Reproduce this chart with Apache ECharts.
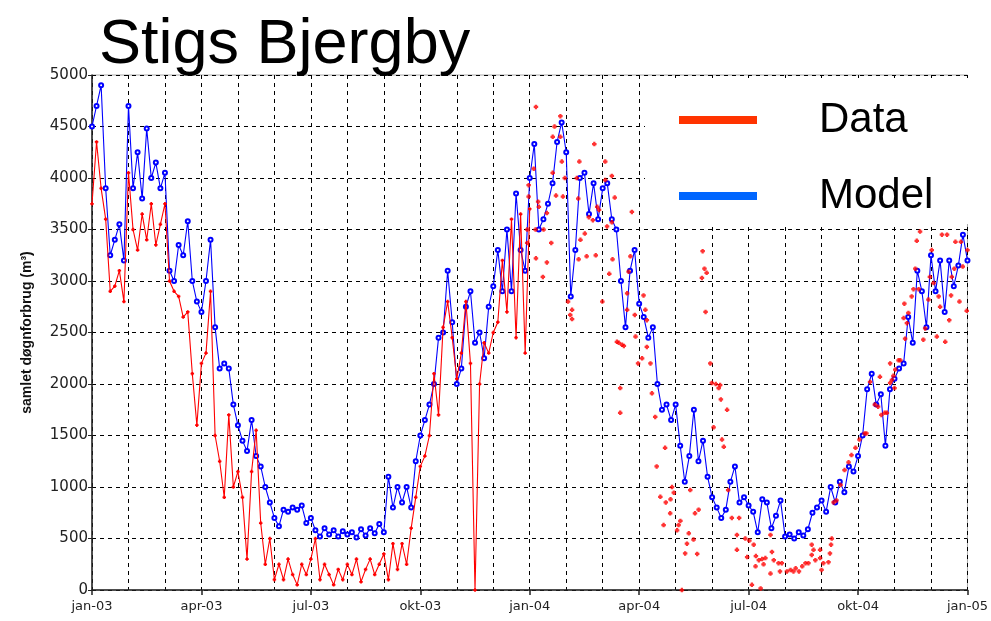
<!DOCTYPE html>
<html>
<head>
    <meta charset="utf-8">
    <title>Stigs Bjergby</title>
    <script src="https://cdn.jsdelivr.net/npm/echarts@6/dist/echarts.min.js"></script>
</head>
<style>
    html, body {
        margin: 0;
        padding: 0;
        width: 100%;
        height: 100%;
        overflow: hidden;
        background: #fff;
    }
    #chart {
        width: 991px;
        height: 621px;
    }
</style>
<body>
<div id="chart"></div>
<script type="text/javascript">
    // x axis runs in months from jan-03 (0) to jan-05 (24)
    var monthNames = ['jan', 'apr', 'jul', 'okt'];
    var step = 1 / 8; // months between two samples of the daily series

    // model, one value per step
    var modelValues = [
        4500, 4700, 4900, 3900, 3250, 3400, 3550, 3200,
        4700, 3900, 4250, 3800, 4480, 4000, 4150, 3900,
        4050, 3100, 3000, 3350, 3250, 3580, 3000, 2800,
        2700, 3000, 3400, 2550, 2150, 2200, 2150, 1800,
        1600, 1450, 1350, 1650, 1300, 1200, 1000, 850,
        700, 620, 780, 760, 800, 780, 820, 650,
        700, 580, 520, 600, 540, 580, 520, 570,
        540, 560, 510, 590, 530, 600, 550, 640,
        560, 1100, 800, 1000, 850, 1000, 800, 1250,
        1500, 1650, 1800, 2000, 2450, 2500, 3100, 2600,
        2000, 2150, 2750, 2900, 2400, 2500, 2250, 2750,
        2950, 3300, 2900, 3500, 2900, 3850, 3300, 3100,
        4000, 4330, 3500, 3600, 3750, 3950, 4350, 4540,
        4250, 2850, 3300, 4000, 4050, 3650, 3950, 3600,
        3900, 3950, 3600, 3500, 3000, 2550, 3100, 3300,
        2780, 2650, 2450, 2550, 2000, 1750, 1800, 1650,
        1800, 1400, 1050, 1300, 1750, 1250, 1450, 1100,
        900, 800, 700, 780, 1050, 1200, 850, 900,
        820, 760, 560, 880, 850, 600, 720, 870,
        520, 540, 500, 560, 530, 590, 750, 800,
        870, 760, 1000, 850, 1050, 950, 1200, 1150,
        1300, 1500, 1950, 2100, 1800, 1900, 1400, 1950,
        2050, 2150, 2200, 2650, 2400, 3100, 2900, 2550,
        3250, 2900, 3200, 2700, 3200, 2950, 3150, 3450,
        3200
    ];

    // measured data, jan-03 .. jan-04, joined by a line
    var dataValues = [
        3750, 4350, 3900, 3600, 2900, 2950, 3100, 2800,
        4050, 3500, 3300, 3650, 3400, 3750, 3350, 3550,
        3750, 3000, 2900, 2850, 2650, 2700, 2100, 1600,
        2200, 2300, 2900, 1500, 1250, 900, 1700, 1000,
        1150, 900, 300, 1150, 1550, 650, 250, 500,
        100, 250, 100, 300, 150, 50, 250, 150,
        300, 500, 100, 250, 150, 50, 200, 100,
        250, 150, 300, 80, 200, 300, 150, 250,
        350, 100, 450, 200, 450, 250, 600, 900,
        1200, 1300, 1500, 2100, 1700, 2550, 2800, 2450,
        2050, 2300, 2800, 2200, 0, 2000, 2400, 2300,
        2500, 2600, 3200, 2700, 3600, 2450, 3650, 2300,
        3700
    ];

    // measured data in 2004, loose points
    var dotMonths = [
        11.93, 11.93, 11.97, 11.97, 12.11, 12.16, 12.17, 12.17, 12.23, 12.25,
        12.36, 12.38, 12.47, 12.47, 12.59, 12.63, 12.63, 12.68, 12.72, 12.84,
        12.84, 12.88, 12.91, 12.96, 13.05, 13.11, 13.16, 13.16, 13.29, 13.33,
        13.36, 13.34, 13.39, 13.51, 13.56, 13.62, 13.73, 13.77, 13.81, 13.85,
        13.90, 13.99, 14.07, 14.07, 14.12, 14.18, 14.25, 14.25, 14.27, 14.33,
        14.39, 14.44, 14.48, 14.48, 14.53, 14.58, 14.67, 14.67, 14.71, 14.76,
        14.80, 14.88, 14.90, 14.97, 15.08, 15.12, 15.17, 15.21, 15.21, 15.31,
        15.35, 15.44, 15.48, 15.58, 15.67, 15.71, 15.73, 15.85, 15.86, 15.90,
        15.95, 16.04, 16.08, 16.13, 16.17, 16.26, 16.31, 16.36, 16.40, 16.49,
        16.53, 16.59, 16.63, 16.72, 16.74, 16.79, 16.85, 16.82, 16.95, 16.99,
        17.04, 17.10, 17.18, 17.22, 17.24, 17.27, 17.32, 17.41, 17.44, 17.54,
        17.68, 17.68, 17.74, 17.91, 17.96, 18.02, 18.09, 18.14, 18.19, 18.20,
        18.28, 18.33, 18.37, 18.46, 18.41, 18.60, 18.60, 18.64, 18.69, 18.82,
        18.86, 18.91, 19.05, 19.15, 19.23, 19.29, 19.38, 19.47, 19.56, 19.64,
        19.73, 19.78, 19.73, 19.83, 19.96, 20.00, 19.96, 20.05, 20.23, 20.19,
        20.26, 20.28, 20.33, 20.41, 20.52, 20.63, 20.74, 20.82, 20.93, 21.04,
        21.18, 21.23, 21.33, 21.46, 21.55, 21.60, 21.64, 21.73, 21.79, 21.88,
        21.88, 21.93, 21.97, 22.00, 22.02, 22.11, 22.16, 22.25, 22.27, 22.29,
        22.34, 22.38, 22.47, 22.52, 22.57, 22.61, 22.66, 22.70, 22.79, 22.84,
        22.93, 22.97, 23.02, 23.07, 23.16, 23.21, 23.25, 23.30, 23.44, 23.39,
        23.50, 23.55, 23.57, 23.64, 23.67, 23.78, 23.82, 23.87, 23.98, 24.00
    ];
    var dotValues = [
        3500, 3370, 3930, 3820, 4090, 3500, 4690, 3220, 3770, 3720,
        3040, 3500, 3180, 3660, 3370, 4050, 4400, 4500, 3830, 4600,
        4400, 4160, 3820, 4000, 2800, 2670, 2720, 2630, 4000, 3800,
        4160, 3210, 3400, 3460, 3240, 3620, 3590, 4330, 3250, 3720,
        3690, 2800, 4160, 3980, 3530, 3070, 4020, 3570, 3210, 3810,
        2410, 2400, 1960, 1720, 2380, 2370, 2880, 2720, 3090, 3240,
        3670, 2670, 2460, 2200, 2250, 2860, 2720, 2360, 2620, 2200,
        1910, 1680, 1200, 905, 630, 1380, 850, 745, 880, 1000,
        945, 580, 630, 670, 0, 355, 450, 550, 970, 490,
        745, 350, 780, 3030, 3290, 3120, 3080, 2700, 2200, 2010,
        1580, 2000, 1960, 1990, 1850, 1460, 1390, 1750, 970, 700,
        535, 390, 700, 500, 320, 480, 50, 440, 230, 330,
        290, 15, 300, 310, 250, 160, 535, 370, 290, 260,
        180, 260, 180, 195, 180, 210, 180, 230, 260, 260,
        340, 390, 440, 290, 310, 195, 390, 260, 355, 270,
        440, 500, 850, 870, 1020, 1165, 1240, 1310, 1380, 1460,
        1520, 1520, 2020, 1800, 1780, 2070, 1700, 1720, 1720, 2010,
        2200, 2040, 2080, 1960, 2140, 2230, 2230, 2640, 2780, 2440,
        2590, 2690, 2850, 2920, 3120, 3390, 2920, 3480, 2430, 2540,
        2820, 3040, 3300, 2980, 2460, 2850, 2750, 3450, 3450, 2410,
        2620, 2860, 3040, 3120, 3380, 2800, 3380, 3140, 2710, 3300
    ];

    var plusSymbol = 'path://M1,0H3V1H4V3H3V4H1V3H0V1H1Z';
    var gridLine = {color: '#000', width: 1, type: [4, 4]};

    var myChart = echarts.init(document.getElementById('chart'), null, {renderer: 'canvas'});
    var option = {
        animation: false,
        backgroundColor: '#fff',
        title: {
            text: 'Stigs Bjergby',
            left: 99,
            top: 14,
            padding: 0,
            textStyle: {fontSize: 63, fontWeight: 'normal', color: '#000', fontFamily: 'Liberation Sans'}
        },
        legend: {
            data: [
                {name: 'Data', icon: 'rect', itemStyle: {color: '#ff3300', borderWidth: 0}},
                {name: 'Model', icon: 'rect', itemStyle: {color: '#0066ff', borderWidth: 0}}
            ],
            orient: 'vertical',
            left: 645,
            top: 78,
            itemWidth: 78,
            itemHeight: 8,
            itemGap: 30,
            padding: [19, 36, 5, 34],
            backgroundColor: '#fff',
            selectedMode: false,
            textStyle: {
                fontSize: 42, color: '#000', fontFamily: 'Liberation Sans',
                lineHeight: 46, padding: [0, 0, 0, 57]
            }
        },
        grid: {
            left: 92, right: 22, top: 75, bottom: 31,
            show: true, borderColor: '#aaa', borderWidth: 1
        },
        xAxis: {
            type: 'value',
            min: 0,
            max: 24,
            interval: 3,
            axisLine: {show: true, lineStyle: {color: '#222', width: 1.5}},
            axisTick: {show: true, length: 5, lineStyle: {color: '#222', width: 1.5}},
            axisLabel: {
                margin: 10,
                fontSize: 13,
                color: '#222',
                fontFamily: 'DejaVu Sans',
                formatter: function (v) {
                    var yr = 3 + Math.floor(v / 12);
                    return monthNames[(v / 3) % 4] + '-' + (yr < 10 ? '0' + yr : yr);
                }
            },
            splitLine: {show: true, lineStyle: gridLine},
            minorTick: {show: false, splitNumber: 3},
            minorSplitLine: {show: true, lineStyle: gridLine}
        },
        yAxis: {
            type: 'value',
            min: 0,
            max: 5000,
            interval: 500,
            name: 'samlet døgnforbrug (m³)',
            nameLocation: 'middle',
            nameGap: 58,
            nameTextStyle: {fontSize: 14, fontWeight: 'bold', color: '#111', fontFamily: 'Liberation Sans'},
            axisLine: {show: true, lineStyle: {color: '#222', width: 1.5}},
            axisTick: {show: true, length: 4, lineStyle: {color: '#222'}},
            axisLabel: {
                margin: 4, fontSize: 15, color: '#222', fontFamily: 'DejaVu Sans',
                formatter: function (v) { return String(v); }
            },
            splitLine: {show: true, lineStyle: gridLine}
        },
        series: [
            {
                name: 'Model',
                type: 'line',
                data: modelValues.map(function (v, i) { return [i * step, v]; }),
                symbol: 'emptyCircle',
                symbolSize: 4,
                showAllSymbol: true,
                lineStyle: {color: '#0000ff', width: 1.1},
                itemStyle: {color: '#0000ff', borderWidth: 0.9},
                z: 2
            },
            {
                name: 'Data',
                type: 'line',
                data: dataValues.map(function (v, i) { return [i * step, v]; }),
                symbol: plusSymbol,
                symbolSize: 3.5,
                showAllSymbol: true,
                lineStyle: {color: '#ff0000', width: 1.1},
                itemStyle: {color: '#ff0000'},
                z: 3
            },
            {
                name: 'Data',
                type: 'scatter',
                data: dotMonths.map(function (m, i) { return [m, dotValues[i]]; }),
                symbol: plusSymbol,
                symbolSize: 4.5,
                itemStyle: {color: '#ff0000'},
                z: 3
            }
        ]
    };
    myChart.setOption(option);
</script>
</body>
</html>
